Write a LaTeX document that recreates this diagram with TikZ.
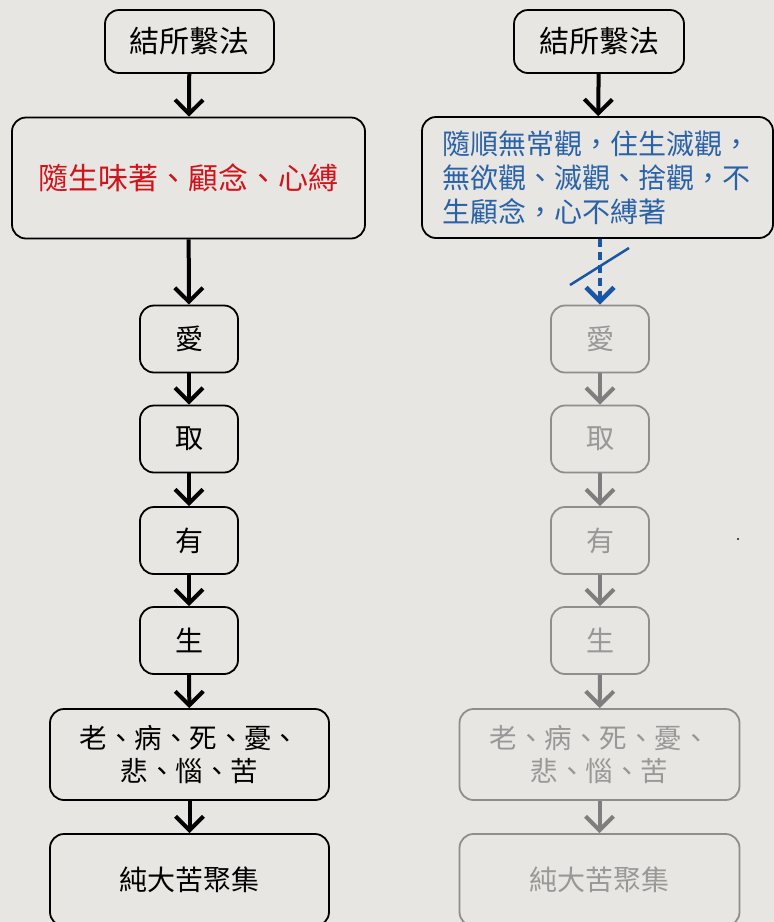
\documentclass[tikz,border=0pt]{standalone}
\usepackage{fontspec}
\newfontfamily\cjk{Noto Sans CJK TC}
\usetikzlibrary{arrows.meta}
\definecolor{bg}{HTML}{E8E6E2}
\definecolor{redtxt}{HTML}{D0141C}
\definecolor{bluetxt}{HTML}{2A62A8}
\definecolor{bluearr}{HTML}{1A56A6}
\definecolor{graybox}{HTML}{8E8E8E}
\definecolor{graytxt}{HTML}{989898}
\definecolor{grayarr}{HTML}{7E7E7E}
\tikzset{
  box/.style={draw=black, line width=1.8pt, rounded corners=14pt, rectangle, inner sep=0pt, font=\cjk\fontsize{28pt}{33pt}\selectfont, text=black, align=center},
  gbox/.style={box, draw=graybox, text=graytxt},
  smallbox/.style={minimum width=98pt, minimum height=67pt},
  widebox/.style={minimum width=279pt, minimum height=91pt},
  arr/.style={line width=4pt, -{Straight Barb[length=14pt,width=28pt,line width=4pt]}},
  garr/.style={arr, draw=grayarr},
  barr/.style={line width=4.5pt, draw=bluearr, dash pattern=on 8pt off 5pt, -{Straight Barb[length=14pt,width=28pt,line width=4.5pt]}}
}
\begin{document}
\begin{tikzpicture}[x=1pt,y=-1pt]
\fill[bg] (0,0) rectangle (774,922);
\useasboundingbox (0,0) rectangle (774,922);
% left column
\node[box, minimum width=169pt, minimum height=63pt, font=\cjk\fontsize{30pt}{34pt}\selectfont] (L1) at (189.5,41.5) {結所繫法};
\node[box, minimum width=353pt, minimum height=121pt, text=redtxt, font=\cjk\fontsize{30pt}{34pt}\selectfont] (L2) at (188.5,178) {隨生味著、顧念、心縛};
\node[box, smallbox] (L3) at (189,339) {愛};
\node[box, smallbox] (L4) at (189,439) {取};
\node[box, smallbox] (L5) at (189,540.5) {有};
\node[box, smallbox] (L6) at (189,640.5) {生};
\node[box, widebox, font=\cjk\fontsize{27.5pt}{33pt}\selectfont] (L7) at (189.5,754.5) {老、病、死、憂、\\悲、惱、苦};
\node[box, widebox, minimum height=92pt] (L8) at (189.5,880) {純大苦聚集};
\draw[arr] (L1) -- (L2);
\draw[arr] (L2) -- (L3);
\draw[arr] (L3) -- (L4);
\draw[arr] (L4) -- (L5);
\draw[arr] (L5) -- (L6);
\draw[arr] (L6) -- (L7);
\draw[arr] (L7) -- (L8);
% right column
\node[box, minimum width=170pt, minimum height=63pt, font=\cjk\fontsize{30pt}{34pt}\selectfont] (R1) at (599,41.5) {結所繫法};
\node[box, minimum width=351pt, minimum height=121pt, text=bluetxt, text width=310pt, align=left, font=\cjk\fontsize{28pt}{34pt}\selectfont] (R2) at (597.5,177.5) {隨順無常觀，住生滅觀，\\無欲觀、滅觀、捨觀，不\\生顧念，心不縛著};
\node[gbox, smallbox] (R3) at (600,339) {愛};
\node[gbox, smallbox] (R4) at (600,439) {取};
\node[gbox, smallbox] (R5) at (600,540.5) {有};
\node[gbox, smallbox] (R6) at (600,640.5) {生};
\node[gbox, widebox, minimum width=280pt, font=\cjk\fontsize{27.5pt}{33pt}\selectfont] (R7) at (599.5,754.5) {老、病、死、憂、\\悲、惱、苦};
\node[gbox, widebox, minimum width=280pt, minimum height=92pt] (R8) at (599.5,880) {純大苦聚集};
\draw[arr] (R1) -- (R2);
\draw[barr] (R2.south -| R3) -- (R3);
\coordinate (s1) at (570,285);
\coordinate (s2) at (629,248);
\draw[bluearr, line width=2.5pt] (s1) -- (s2);
\draw[garr] (R3) -- (R4);
\draw[garr] (R4) -- (R5);
\draw[garr] (R5) -- (R6);
\draw[garr] (R6) -- (R7);
\draw[garr] (R7) -- (R8);
\fill[black!70] (737,538) rectangle (739,540);
\end{tikzpicture}
\end{document}
